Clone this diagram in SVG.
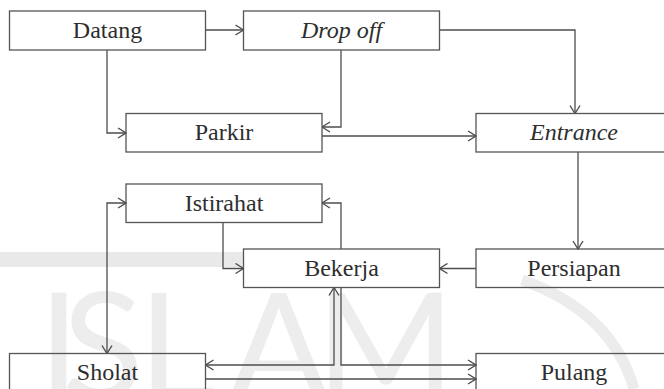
<svg xmlns="http://www.w3.org/2000/svg" width="664" height="389" viewBox="0 0 664 389">
  <style>
    .box { fill: none; stroke: #555; stroke-width: 1.3; }
    .lbl { font-family: "Liberation Serif", "Times New Roman", serif; font-size: 24px; fill: #2e2e2e; text-anchor: middle; }
    .it { font-style: italic; }
    .wire { fill: none; stroke: #4d4d4d; stroke-width: 1.3; }
    .wm { font-family: Lato, "Open Sans", "DejaVu Sans", sans-serif; font-weight: 400; font-size: 150px; fill: #ededed; }
  </style>
  <defs>
    <marker id="arr" viewBox="0 0 10 12" refX="9.5" refY="6" markerWidth="10" markerHeight="12" markerUnits="userSpaceOnUse" orient="auto-start-reverse">
      <path d="M1.5,1 L9.5,6 L1.5,11" fill="none" stroke="#4d4d4d" stroke-width="1.4"/>
    </marker>
  </defs>

  <rect width="664" height="389" fill="#fff"/>

  <!-- faint background watermark -->
  <g id="watermark">
    <rect x="0" y="252" width="243" height="15" fill="#e9e9e9"/>
    <text class="wm" x="38" y="400">I</text>
    <text class="wm" x="62" y="400">S</text>
    <text class="wm" x="138" y="400">L</text>
    <text class="wm" x="228" y="400">A</text>
    <text class="wm" x="316" y="400">M</text>
    <path d="M522,280 Q612,312 634,389" fill="none" stroke="#ececec" stroke-width="11"/>
  </g>

  <g id="connectors">
    <path class="wire" d="M205.5,30 H243.5" marker-end="url(#arr)"/>
    <path class="wire" d="M107,50 V133 H126" marker-end="url(#arr)"/>
    <path class="wire" d="M341,50 V127 H322" marker-end="url(#arr)"/>
    <path class="wire" d="M322,136 H476" marker-end="url(#arr)"/>
    <path class="wire" d="M439.5,30 H575 V113.5" marker-end="url(#arr)"/>
    <path class="wire" d="M578,152 V249" marker-end="url(#arr)"/>
    <path class="wire" d="M476,268.5 H439.5" marker-end="url(#arr)"/>
    <path class="wire" d="M223,222.5 V268.5 H243.5" marker-end="url(#arr)"/>
    <path class="wire" d="M341,249 V203 H322" marker-end="url(#arr)"/>
    <path class="wire" d="M126,203 H107 V353.5" marker-start="url(#arr)" marker-end="url(#arr)"/>
    <path class="wire" d="M205.5,365 H334 V287.5" marker-start="url(#arr)" marker-end="url(#arr)"/>
    <path class="wire" d="M341,287.5 V365 H476" marker-end="url(#arr)"/>
    <path class="wire" d="M205.5,379 H476" marker-end="url(#arr)"/>
  </g>

  <g id="datang">
    <rect class="box" x="9.5" y="11" width="196" height="39"/>
    <text class="lbl" x="107.5" y="38">Datang</text>
  </g>
  <g id="drop-off">
    <rect class="box" x="243.5" y="11" width="196" height="39"/>
    <text class="lbl it" x="341.5" y="38">Drop off</text>
  </g>
  <g id="parkir">
    <rect class="box" x="126" y="113.5" width="196" height="38.5"/>
    <text class="lbl" x="224" y="140">Parkir</text>
  </g>
  <g id="entrance">
    <rect class="box" x="476" y="113.5" width="196" height="38.5"/>
    <text class="lbl it" x="574" y="140">Entrance</text>
  </g>
  <g id="istirahat">
    <rect class="box" x="126" y="184" width="196" height="38.5"/>
    <text class="lbl" x="224" y="210.5">Istirahat</text>
  </g>
  <g id="bekerja">
    <rect class="box" x="243.5" y="249" width="196" height="38.5"/>
    <text class="lbl" x="341.5" y="275.5">Bekerja</text>
  </g>
  <g id="persiapan">
    <rect class="box" x="476" y="249" width="196" height="38.5"/>
    <text class="lbl" x="574" y="275.5">Persiapan</text>
  </g>
  <g id="sholat">
    <rect class="box" x="9.5" y="353.5" width="196" height="38.5"/>
    <text class="lbl" x="107.5" y="380">Sholat</text>
  </g>
  <g id="pulang">
    <rect class="box" x="476" y="353.5" width="196" height="38.5"/>
    <text class="lbl" x="574" y="380">Pulang</text>
  </g>
</svg>
